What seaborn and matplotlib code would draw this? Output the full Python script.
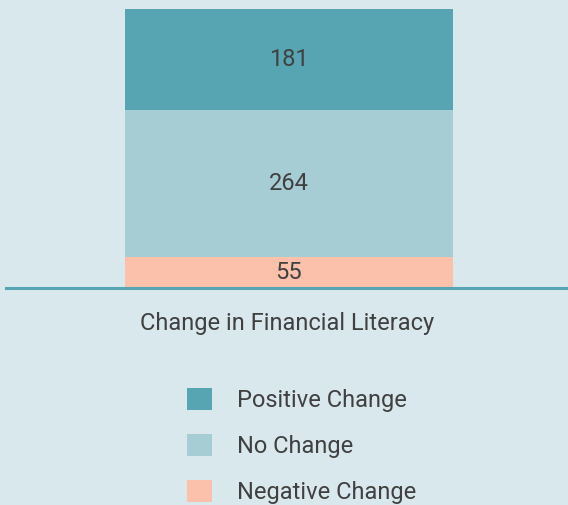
import numpy as np
import pandas as pd
import seaborn as sns
import matplotlib.pyplot as plt
from matplotlib.patches import Patch

# data
categories = ["Negative Change", "No Change", "Positive Change"]
counts = [55, 264, 181]
colors = ["#fcc1aa", "#a7cdd4", "#57a5b2"]
xlabel = "Change in Financial Literacy"

bg = "#d9e8ed"
txt = "#404040"

sns.set_theme(style="white")
plt.rcParams['font.family'] = ['Roboto', 'DejaVu Sans']

df = pd.DataFrame({"group": [xlabel] * 3, "category": categories, "count": counts})
df["top"] = df["count"].cumsum()

fig = plt.figure(figsize=(5.68, 5.05), dpi=100, facecolor=bg)
ax = fig.add_axes([6 / 568, 1 - 288 / 505, 562 / 568, 279 / 505])
ax.set_facecolor(bg)

# stacked bar: draw cumulative totals from the top down so they overlap
for i in reversed(range(len(df))):
    sns.barplot(data=df.iloc[[i]], x="group", y="top", color=colors[i],
                width=0.582, saturation=1, linewidth=0, ax=ax, zorder=2)

# value labels in the middle of each segment
for _, row in df.iterrows():
    ax.text(0, row["top"] - row["count"] / 2, str(row["count"]),
            ha="center", va="center", fontsize=17, color=txt)

ax.set_xlim(-0.5035, 0.4965)
ax.set_ylim(0, df["top"].iloc[-1])
ax.set_yticks([])
ax.set_xticks([])
ax.set_ylabel("")
ax.set_xlabel(xlabel, fontsize=17, color=txt, labelpad=17)
for s in ["top", "left", "right"]:
    ax.spines[s].set_visible(False)
ax.spines["bottom"].set_color("#57a5b2")
ax.spines["bottom"].set_linewidth(2.2)
ax.spines["bottom"].set_zorder(5)

# legend, positive change on top
handles = [Patch(facecolor=colors[i], edgecolor="none") for i in reversed(range(3))]
labels = [categories[i] for i in reversed(range(3))]
leg = fig.legend(handles, labels, loc="upper left", bbox_to_anchor=(187 / 568, 1 - 388 / 505),
                 frameon=False, fontsize=17, handlelength=1.05, handleheight=1.05,
                 handletextpad=1.05, labelspacing=0.93, borderpad=0, borderaxespad=0)
for t in leg.get_texts():
    t.set_color(txt)

fig.savefig("out.png", dpi=100, facecolor=bg)
